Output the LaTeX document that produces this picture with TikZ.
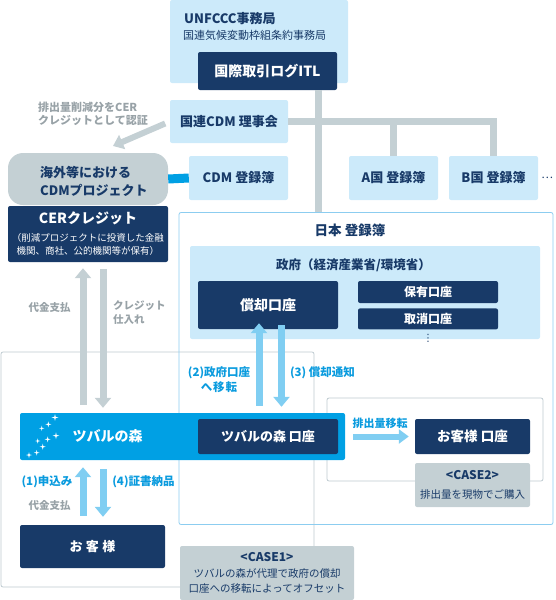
\documentclass[tikz,border=0pt]{standalone}
\usepackage{fontspec}
\setmainfont{Noto Sans CJK JP}
\newfontfamily\twsymfont{DejaVu Sans}
\usepackage{tikz}
\usetikzlibrary{positioning, arrows.meta}
\definecolor{twnavy}{RGB}{24, 58, 104}
\definecolor{twpale}{RGB}{204, 234, 250}
\definecolor{twgray}{RGB}{196, 208, 212}
\definecolor{twblue}{RGB}{0, 160, 228}
\definecolor{twsky}{RGB}{128, 206, 242}
\definecolor{twtextgray}{RGB}{152, 162, 167}
\definecolor{twtextblue}{RGB}{10, 155, 222}
\definecolor{twframe}{RGB}{190, 202, 208}
\definecolor{twframeblue}{RGB}{140, 205, 240}
\newcommand{\twcase}{\bfseries\fontsize{12}{16}\selectfont}
\newcommand{\twsub}{\mdseries\fontsize{9.5}{13}\selectfont}

\begin{document}
\begin{tikzpicture}[x=1pt, y=-1pt,
  every node/.style={align=center, inner sep=0pt, text=twnavy, font=\bfseries\fontsize{13}{16}\selectfont},
  palebox/.style={fill=twpale, rounded corners=2pt},
  navybox/.style={fill=twnavy, rounded corners=2pt, text=white},
  graybox/.style={fill=twgray, rounded corners=2pt},
  thinframe/.style={draw=twframe, line width=0.8pt, rounded corners=2pt},
  graylink/.style={draw=twgray, line width=7pt},
  grayarrow/.style={draw=twgray, line width=7pt, -{Triangle[width=16pt, length=10pt]}},
  skyarrow/.style={draw=twsky, line width=7pt, -{Triangle[width=16pt, length=10pt]}},
  graylabel/.style={text=twtextgray, font=\bfseries\fontsize{10.5}{14}\selectfont},
  bluelabel/.style={text=twtextblue, font=\bfseries\fontsize{11.5}{14}\selectfont}]
  \useasboundingbox (0,0) rectangle (555,600);

  % frames behind everything
  \node[thinframe, minimum width=313pt, minimum height=235pt] (forestframe) at (157.5,469.5) {};
  \node[thinframe, draw=twframeblue, minimum width=374pt, minimum height=312pt] (japan) at (366,368.5) {};
  \node[thinframe, minimum width=216pt, minimum height=83pt] (case2frame) at (435,439.5) {};

  % UN side
  \node[palebox, minimum width=178pt, minimum height=83pt] (unfccc) at (259,41.5) {};
  \node[anchor=west] (unfccctitle) at (184,18.5) {UNFCCC事務局};
  \node[anchor=west, font=\mdseries\fontsize{11}{13}\selectfont] (unfcccsub) at (183,35.5) {国連気候変動枠組条約事務局};
  \node[navybox, minimum width=139pt, minimum height=38pt, font=\bfseries\fontsize{14}{16}\selectfont] (itl) at (267.5,71) {国際取引ログITL};
  \node[palebox, minimum width=118pt, minimum height=43pt] (cdmboard) at (229,121.5) {国連CDM 理事会};
  \node[palebox, minimum width=99pt, minimum height=44pt] (cdmreg) at (238.5,178) {CDM 登録簿};
  \node[palebox, minimum width=89pt, minimum height=44pt] (areg) at (393.5,178) {A国 登録簿};
  \node[palebox, minimum width=89pt, minimum height=44pt] (breg) at (493.5,178) {B国 登録簿};
  \node[right=3pt of breg, font=\mdseries\fontsize{11}{13}\selectfont] (bdots) {…};

  % project and credits
  \node[graybox, rounded corners=15pt, minimum width=160pt, minimum height=52pt] (cdmproj) at (88,179) {};
  \node[anchor=west, align=left, font=\bfseries\fontsize{13}{18}\selectfont] (cdmprojtext) at (40,181) {海外等における\\CDMプロジェクト};
  \node[navybox, minimum width=160pt, minimum height=56pt, font=\bfseries\fontsize{9.5}{13}\selectfont] (cer) at (88,234)
    {\fontsize{14}{16}\selectfont CERクレジット\\[5pt]
     \twsub（削減プロジェクトに投資した金融\\
     \twsub 機関、商社、公的機関等が保有）};
  \node[graylabel, anchor=west, align=left, font=\bfseries\fontsize{11}{13}\selectfont] (certlabel) at (38,113.5) {排出量削減分をCER\\クレジットとして認証};
  \node[graylabel] (paylabel) at (49.5,307) {代金支払};
  \node[graylabel, anchor=west, align=left] (buylabel) at (113,313) {クレジット\\仕入れ};

  % Japan registry
  \node[font=\bfseries\fontsize{13.5}{16}\selectfont] (japantitle) at (350,230) {日本 登録簿};
  \node[palebox, minimum width=350pt, minimum height=93pt] (gov) at (365,292.5) {};
  \node[font=\bfseries\fontsize{12.5}{15}\selectfont] (govtitle) at (353.5,265.5) {政府（経済産業省/環境省）};
  \node[navybox, minimum width=140pt, minimum height=48pt, font=\bfseries\fontsize{14}{16}\selectfont] (retire) at (268,305) {償却口座};
  \node[navybox, minimum width=140pt, minimum height=22pt, font=\bfseries\fontsize{12}{14}\selectfont] (holding) at (428,292) {保有口座};
  \node[navybox, minimum width=140pt, minimum height=21pt, font=\bfseries\fontsize{12}{14}\selectfont, below=5pt of holding] (cancel) {取消口座};
  \node[below=5pt of cancel, font=\twsymfont\fontsize{10}{12}\selectfont] (govdots) {⋮};
  \node[bluelabel, font=\bfseries\fontsize{11.5}{14.5}\selectfont] (movelabel) at (219,379.5) {(2)政府口座\\へ\hspace{1pt}移\hspace{1pt}転};
  \node[bluelabel] (noticelabel) at (322.5,372.5) {(3) 償却通知};

  % Tuvalu forest
  \node[fill=twblue, rounded corners=2pt, minimum width=325pt, minimum height=47pt] (tuvalu) at (182.5,436.5) {};
  \foreach \sx/\sy/\ss in {55/417.5/3.4, 48.3/424.3/3, 41.7/428.3/2.6, 56/435.7/3.4, 47.7/439.3/3,
                           37.7/441/2.6, 42.7/446.7/3, 36.7/452.7/2.8, 29/455/3}
    \fill[white, shift={(\sx,\sy)}] (0,-\ss) -- ({0.2*\ss},{-0.2*\ss}) -- (\ss,0) -- ({0.2*\ss},{0.2*\ss})
      -- (0,\ss) -- ({-0.2*\ss},{0.2*\ss}) -- (-\ss,0) -- ({-0.2*\ss},{-0.2*\ss}) -- cycle;
  \node[text=white, font=\bfseries\fontsize{14}{16}\selectfont] (tuvalutitle) at (107.5,436.5) {ツバルの森};
  \node[navybox, minimum width=140pt, minimum height=35pt] (tuvaluacct) at (268,436.5) {ツバルの森 口座};
  \node[navybox, minimum width=115pt, minimum height=35pt, font=\bfseries\fontsize{13.5}{16}\selectfont] (customeracct) at (472.5,436.5) {お客様 口座};
  \node[graybox, minimum width=115pt, minimum height=44pt, font=\mdseries\fontsize{10.5}{19}\selectfont] (case2) at (472.5,485)
    {\twcase <CASE2>\\排出量を現物でご購入};
  \node[bluelabel, font=\bfseries\fontsize{11}{13}\selectfont] (transferlabel) at (380,423) {排出量移転};

  % customer
  \node[navybox, minimum width=145pt, minimum height=43pt] (customer) at (92.5,546.5) {お\hspace{3.5pt}客\hspace{3.5pt}様};
  \node[bluelabel] (applylabel) at (47,481.5) {(1)申込み};
  \node[graylabel] (paylabel2) at (49.5,505.5) {代金支払};
  \node[bluelabel] (deliverlabel) at (143.5,481.5) {(4)証書納品};
  \node[graybox, minimum width=174pt, minimum height=54pt, font=\mdseries\fontsize{10.5}{15.5}\selectfont] (case1) at (267,573)
    {\twcase <CASE1>\\ツバルの森が代理で政府の償却\\口座への移転によってオフセット};

  % connectors
  \coordinate (trunk) at (318,0);
  \coordinate (paycol) at (83,0);
  \coordinate (buycol) at (103,0);
  \coordinate (retireup) at (259,0);
  \coordinate (retiredown) at (281.5,0);
  \coordinate (certip) at (113,146);
  \draw[graylink] (itl.south -| trunk) -- (japan.north -| trunk);
  \draw[graylink] (cdmboard.east) -| (breg.north);
  \draw[graylink] (areg.north) -- (areg.north |- cdmboard.east);
  \draw[draw=twblue, line width=9pt] (cdmproj.east) -- (cdmreg.west);
  \draw[draw=twgray, line width=6pt, -{Triangle[width=15pt, length=10pt]}, shorten <=5pt] (cdmboard.west) -- (certip);
  \draw[grayarrow, shorten <=8pt, shorten >=6pt] (tuvalu.north -| paycol) -- (cer.south -| paycol);
  \draw[grayarrow, shorten <=7pt, shorten >=5pt] (cer.south -| buycol) -- (tuvalu.north -| buycol);
  \draw[skyarrow, shorten <=7pt, shorten >=-6pt] (tuvalu.north -| retireup) -- (retire.south -| retireup);
  \draw[skyarrow, shorten <=-4pt, shorten >=6pt] (retire.south -| retiredown) -- (tuvalu.north -| retiredown);
  \draw[skyarrow, line width=6pt, -{Triangle[width=14pt, length=10pt]}, shorten <=8pt, shorten >=6pt] (tuvalu.east) -- (customeracct.west);
  \draw[skyarrow, shorten <=9pt, shorten >=7pt] (customer.north -| paycol) -- (tuvalu.south -| paycol);
  \draw[skyarrow, shorten <=9pt, shorten >=8pt] (tuvalu.south -| buycol) -- (customer.north -| buycol);
\end{tikzpicture}
\end{document}
